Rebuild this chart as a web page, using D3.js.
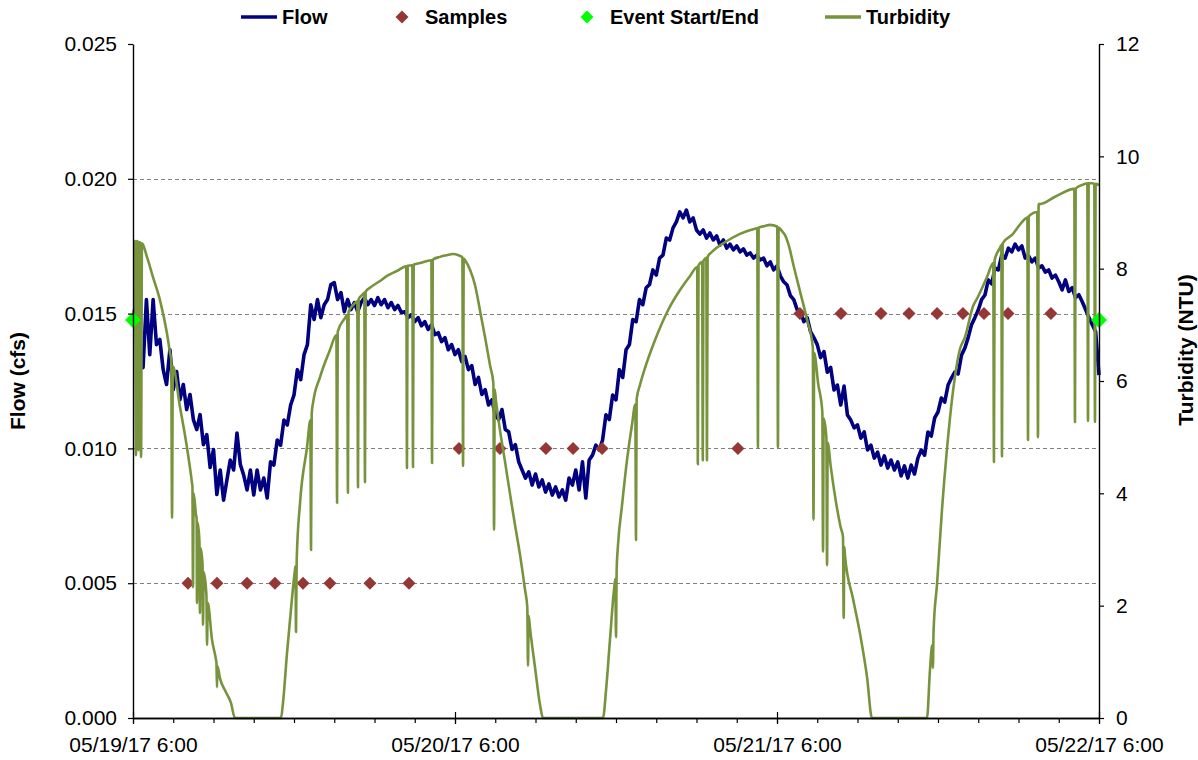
<!DOCTYPE html>
<html>
<head>
<meta charset="utf-8">
<script src="https://cdn.jsdelivr.net/npm/d3@7"></script>
<style>
  body { margin: 0; background: #ffffff; }
  svg { display: block; }
  text { font-family: "Liberation Sans", Arial, Helvetica, sans-serif; }
</style>
</head>
<body>
<svg id="chart" width="1198" height="760"></svg>
<script>
// ---- data ---------------------------------------------------------------
const startTime = new Date(2017, 4, 19, 6, 0);   // 05/19/17 6:00
const spanHours = 72;
const flowStepMinutes = 15;

// Flow (cfs), one reading every 15 minutes from 05/19/17 6:00
const flowValues = [
  0.01478, 0.01552, 0.01311, 0.01300, 0.01552, 0.01348, 0.01552, 0.01385, 0.01404, 0.01292, 0.01237, 0.01366,
  0.01218, 0.01285, 0.01181, 0.01237, 0.01144, 0.01200, 0.01107, 0.01070, 0.01125, 0.01014, 0.01051, 0.00929,
  0.00996, 0.00829, 0.00920, 0.00808, 0.00883, 0.00957, 0.00920, 0.01057, 0.00940, 0.00901, 0.00846, 0.00920,
  0.00827, 0.00920, 0.00846, 0.00890, 0.00816, 0.00950, 0.00938, 0.01031, 0.01012, 0.01105, 0.01087, 0.01161,
  0.01198, 0.01292, 0.01255, 0.01348, 0.01385, 0.01533, 0.01478, 0.01552, 0.01485, 0.01533, 0.01552, 0.01608,
  0.01615, 0.01552, 0.01578, 0.01507, 0.01552, 0.01515, 0.01541, 0.01507, 0.01541, 0.01559, 0.01533, 0.01552,
  0.01530, 0.01559, 0.01533, 0.01552, 0.01522, 0.01541, 0.01515, 0.01530, 0.01504, 0.01507, 0.01485, 0.01496,
  0.01470, 0.01485, 0.01455, 0.01470, 0.01441, 0.01459, 0.01422, 0.01429, 0.01396, 0.01411, 0.01366, 0.01385,
  0.01348, 0.01366, 0.01322, 0.01341, 0.01292, 0.01307, 0.01237, 0.01263, 0.01200, 0.01218, 0.01161, 0.01180,
  0.01125, 0.01107, 0.01144, 0.01070, 0.01062, 0.00996, 0.01014, 0.00950, 0.00920, 0.00890, 0.00913, 0.00864,
  0.00905, 0.00857, 0.00883, 0.00838, 0.00868, 0.00827, 0.00857, 0.00820, 0.00846, 0.00808, 0.00890, 0.00864,
  0.00920, 0.00846, 0.00950, 0.00816, 0.00957, 0.00975, 0.01012, 0.00994, 0.01031, 0.01125, 0.01107, 0.01198,
  0.01180, 0.01292, 0.01263, 0.01366, 0.01385, 0.01478, 0.01470, 0.01552, 0.01533, 0.01596, 0.01608, 0.01662,
  0.01643, 0.01706, 0.01717, 0.01780, 0.01773, 0.01818, 0.01840, 0.01877, 0.01855, 0.01884, 0.01840, 0.01855,
  0.01810, 0.01795, 0.01810, 0.01780, 0.01799, 0.01773, 0.01788, 0.01754, 0.01773, 0.01743, 0.01758, 0.01736,
  0.01751, 0.01729, 0.01740, 0.01717, 0.01725, 0.01706, 0.01717, 0.01699, 0.01706, 0.01677, 0.01692, 0.01662,
  0.01677, 0.01640, 0.01618, 0.01606, 0.01566, 0.01552, 0.01515, 0.01507, 0.01470, 0.01485, 0.01433, 0.01411,
  0.01385, 0.01337, 0.01359, 0.01283, 0.01300, 0.01217, 0.01235, 0.01161, 0.01231, 0.01124, 0.01105, 0.01076,
  0.01087, 0.01038, 0.01061, 0.00994, 0.01012, 0.00964, 0.00986, 0.00938, 0.00972, 0.00927, 0.00957, 0.00920,
  0.00950, 0.00898, 0.00935, 0.00890, 0.00938, 0.00905, 0.00964, 0.00994, 0.00975, 0.01061, 0.01046, 0.01113,
  0.01135, 0.01187, 0.01172, 0.01235, 0.01261, 0.01283, 0.01276, 0.01346, 0.01372, 0.01411, 0.01459, 0.01485,
  0.01513, 0.01552, 0.01569, 0.01625, 0.01610, 0.01669, 0.01662, 0.01717, 0.01706, 0.01743, 0.01729, 0.01758,
  0.01736, 0.01751, 0.01706, 0.01714, 0.01692, 0.01706, 0.01669, 0.01677, 0.01654, 0.01662, 0.01632, 0.01643,
  0.01618, 0.01588, 0.01625, 0.01582, 0.01596, 0.01559, 0.01570, 0.01544, 0.01515, 0.01485, 0.01459, 0.01433,
  0.01272
];

// Turbidity (NTU) as [hours after 05/19/17 6:00, NTU], including sensor dropouts
const turbidityPoints = [
  [0.00, 8.49], [0.15, 8.49], [0.22, 4.68], [0.29, 8.49], [0.35, 8.48], [0.41, 4.77], [0.47, 8.47], [0.53, 8.47],
  [0.60, 4.65], [0.67, 8.45], [1.04, 8.21], [1.49, 7.85], [2.01, 7.44], [2.53, 6.85], [2.76, 6.50], [2.85, 6.38],
  [2.91, 3.56], [2.97, 6.26], [3.50, 5.54], [4.02, 4.82], [4.40, 4.18], [4.43, 4.12], [4.47, 2.33], [4.52, 4.00],
  [4.70, 3.61], [4.74, 3.56], [4.77, 2.05], [4.82, 3.48], [4.95, 3.15], [4.99, 1.87], [5.04, 3.02], [5.18, 2.75],
  [5.22, 1.66], [5.27, 2.60], [5.47, 2.20], [5.52, 1.30], [5.57, 2.05], [5.89, 1.39], [6.19, 1.03], [6.22, 0.98],
  [6.26, 0.55], [6.30, 0.92], [6.48, 0.71], [6.93, 0.46], [7.30, 0.27], [7.60, 0.00],
  [11.03, 0.00], [11.18, 0.27], [11.48, 1.16], [11.70, 1.74], [12.07, 2.63], [12.11, 2.70], [12.15, 1.53], [12.20, 2.80],
  [12.45, 3.83], [12.97, 4.82], [13.22, 5.30], [13.27, 2.99], [13.32, 5.42], [13.42, 5.61], [13.94, 6.07], [14.68, 6.55],
  [15.16, 6.82], [15.21, 3.83], [15.26, 6.88], [15.80, 7.12], [15.97, 7.18], [16.02, 4.01], [16.07, 7.23], [16.40, 7.35],
  [16.72, 7.42], [16.77, 4.11], [16.82, 7.46], [17.07, 7.53], [17.24, 7.57], [17.29, 4.20], [17.34, 7.59], [17.66, 7.66],
  [18.41, 7.78], [18.93, 7.87], [19.68, 7.96], [20.37, 8.04], [20.42, 4.45], [20.47, 8.05], [20.82, 8.06], [20.87, 4.47],
  [20.92, 8.07], [21.39, 8.10], [22.24, 8.15], [22.29, 4.54], [22.34, 8.16], [22.88, 8.21], [23.40, 8.24], [23.85, 8.26],
  [24.25, 8.24], [24.55, 8.20], [24.60, 4.49], [24.65, 8.18], [24.75, 8.15], [25.12, 7.98], [25.49, 7.71], [25.86, 7.26],
  [26.24, 6.78], [26.61, 6.28], [26.86, 5.96], [26.91, 3.35], [26.96, 5.85], [27.05, 5.66], [27.35, 5.13], [27.73, 4.56],
  [28.10, 3.99], [28.47, 3.44], [28.85, 2.90], [29.22, 2.28], [29.39, 1.96], [29.44, 0.93], [29.49, 1.82], [29.59, 1.60],
  [29.97, 0.89], [30.34, 0.23], [30.56, 0.00],
  [35.03, 0.00], [35.26, 0.50], [35.55, 1.39], [35.85, 2.28], [35.95, 2.48], [36.00, 1.44], [36.05, 2.64], [36.15, 3.08],
  [36.45, 3.79], [36.82, 4.59], [37.19, 5.22], [37.44, 5.58], [37.49, 3.17], [37.54, 5.68], [37.79, 5.93], [38.16, 6.23],
  [38.91, 6.73], [39.88, 7.26], [40.77, 7.62], [41.52, 7.87], [42.05, 8.03], [42.10, 4.52], [42.15, 8.06], [42.42, 8.12],
  [42.47, 4.59], [42.52, 8.14], [42.73, 8.19], [42.78, 4.59], [42.83, 8.21], [43.15, 8.30], [44.12, 8.47], [45.24, 8.62],
  [46.36, 8.71], [46.53, 8.72], [46.58, 4.82], [46.63, 8.73], [47.10, 8.76], [47.47, 8.78], [48.02, 8.75], [48.07, 4.82],
  [48.12, 8.73], [48.37, 8.67], [48.59, 8.60], [48.97, 8.33], [49.19, 8.10], [49.71, 7.60], [50.24, 7.09], [50.67, 6.60],
  [50.72, 3.53], [50.77, 6.50], [51.07, 5.95], [51.38, 5.45], [51.43, 2.96], [51.48, 5.33], [51.68, 5.00], [51.73, 2.72],
  [51.78, 4.90], [52.00, 4.49], [52.74, 3.40], [52.92, 3.22], [52.97, 1.78], [53.02, 3.05], [53.07, 2.88], [53.67, 2.12],
  [54.19, 1.50], [54.71, 0.73], [55.08, 0.00],
  [59.18, 0.00], [59.40, 0.85], [59.57, 1.30], [59.62, 0.89], [59.67, 1.55], [59.93, 2.39], [60.30, 3.72], [60.67, 4.79],
  [61.12, 5.82], [61.64, 6.57], [62.01, 6.78], [62.61, 7.33], [62.98, 7.50], [63.65, 7.85], [64.12, 8.10], [64.17, 4.56],
  [64.22, 8.15], [64.62, 8.37], [64.72, 8.42], [64.77, 4.66], [64.82, 8.45], [65.59, 8.62], [66.26, 8.83], [66.66, 8.91],
  [66.71, 4.95], [66.76, 8.93], [67.40, 9.01], [67.45, 5.00], [67.50, 9.15], [67.60, 9.15], [68.72, 9.28], [70.16, 9.42],
  [70.21, 5.27], [70.26, 9.43], [70.96, 9.51], [71.13, 9.52], [71.18, 5.29], [71.23, 9.52], [71.48, 9.52], [71.65, 9.51],
  [71.70, 5.27], [71.75, 9.51], [72.00, 9.49]
];

// Water-quality samples: hours after start, flow at sampling (cfs)
const sampleHours = [4.10, 6.26, 8.50, 10.58, 12.67, 14.68, 17.66, 20.57,
                     24.30, 27.35, 30.78, 32.80, 34.96, 45.09,
                     49.71, 52.77, 55.75, 57.84, 59.93, 61.86, 63.43, 65.22, 68.42];
const sampleFlow  = [0.005, 0.005, 0.005, 0.005, 0.005, 0.005, 0.005, 0.005,
                     0.010, 0.010, 0.010, 0.010, 0.010, 0.010,
                     0.015, 0.015, 0.015, 0.015, 0.015, 0.015, 0.015, 0.015, 0.015];

// Event start and end
const eventHours = [0, 72];
const eventFlow  = [0.01476, 0.01476];

// Axis ticks
const flowTicks = [0.000, 0.005, 0.010, 0.015, 0.020, 0.025];
const flowGridTicks = [0.005, 0.010, 0.015, 0.020];
const turbidityTicks = [0, 2, 4, 6, 8, 10, 12];
const dayTickHours = [0, 24, 48, 72];
const minorTickHours = d3.range(0, 73, 3);

// ---- layout -------------------------------------------------------------
const plot = { left: 133, right: 1099, top: 44, bottom: 718 };
const colors = {
  flow: "#000080",
  sample: "#953735",
  event: "#00ff00",
  turbidity: "#77933c",
  grid: "#808080"
};

const hourToDate = h => new Date(startTime.getTime() + h * 3600 * 1000);

const x = d3.scaleTime()
  .domain([startTime, hourToDate(spanHours)])
  .range([plot.left, plot.right]);
const yFlow = d3.scaleLinear().domain([0, 0.025]).range([plot.bottom, plot.top]);
const yTurb = d3.scaleLinear().domain([0, 12]).range([plot.bottom, plot.top]);

const svg = d3.select("#chart");
svg.append("rect").attr("width", 1198).attr("height", 760).attr("fill", "#ffffff");

// horizontal dashed gridlines
svg.append("g").selectAll("line")
  .data(flowGridTicks)
  .join("line")
  .attr("x1", plot.left).attr("x2", plot.right)
  .attr("y1", d => Math.round(yFlow(d)) + 0.5)
  .attr("y2", d => Math.round(yFlow(d)) + 0.5)
  .attr("stroke", colors.grid)
  .attr("stroke-width", 1.2)
  .attr("stroke-dasharray", "4,3");

// flow line
const flowLine = d3.line()
  .x((d, i) => x(hourToDate(i * flowStepMinutes / 60)))
  .y(d => yFlow(d));
svg.append("path")
  .datum(flowValues)
  .attr("d", flowLine)
  .attr("fill", "none")
  .attr("stroke", colors.flow)
  .attr("stroke-width", 3.6)
  .attr("stroke-linejoin", "round");

// diamond marker path
const diamond = r => `M0,${-r}L${r},0L0,${r}L${-r},0Z`;

// samples
svg.append("g").selectAll("path")
  .data(sampleHours.map((h, i) => [h, sampleFlow[i]]))
  .join("path")
  .attr("transform", d => `translate(${x(hourToDate(d[0]))},${yFlow(d[1])})`)
  .attr("d", diamond(6.5))
  .attr("fill", colors.sample);

// turbidity line (secondary axis)
const turbLine = d3.line()
  .x(d => x(hourToDate(d[0])))
  .y(d => yTurb(d[1]))
  .curve(d3.curveMonotoneX);
svg.append("path")
  .datum(turbidityPoints)
  .attr("d", turbLine)
  .attr("fill", "none")
  .attr("stroke", colors.turbidity)
  .attr("stroke-width", 2.6)
  .attr("stroke-linejoin", "round");

// event start / end markers
svg.append("g").selectAll("path")
  .data(eventHours.map((h, i) => [h, eventFlow[i]]))
  .join("path")
  .attr("transform", d => `translate(${x(hourToDate(d[0]))},${yFlow(d[1])})`)
  .attr("d", diamond(8))
  .attr("fill", colors.event);

// ---- axes ---------------------------------------------------------------
const styleAxis = g => {
  g.select(".domain").attr("stroke", "#000").attr("stroke-width", 1.4);
  g.selectAll(".tick line").attr("stroke", "#000").attr("stroke-width", 1.2);
  g.selectAll(".tick text").attr("fill", "#000").attr("font-size", 21)
    .attr("font-family", '"Liberation Sans", Arial, sans-serif');
};

svg.append("g")
  .attr("transform", `translate(${plot.left},0)`)
  .call(d3.axisLeft(yFlow).tickValues(flowTicks).tickFormat(d3.format(".3f"))
    .tickSizeInner(5).tickSizeOuter(0).tickPadding(11))
  .call(styleAxis);

svg.append("g")
  .attr("transform", `translate(${plot.right},0)`)
  .call(d3.axisRight(yTurb).tickValues(turbidityTicks).tickFormat(d3.format("d"))
    .tickSizeInner(5).tickSizeOuter(0).tickPadding(12))
  .call(styleAxis);

// minor 3-hour ticks
svg.append("g")
  .attr("transform", `translate(0,${plot.bottom})`)
  .call(d3.axisBottom(x).tickValues(minorTickHours.map(hourToDate)).tickFormat("")
    .tickSizeInner(5).tickSizeOuter(0))
  .call(styleAxis);

// major day ticks with labels
const dayAxis = svg.append("g")
  .attr("transform", `translate(0,${plot.bottom})`)
  .call(d3.axisBottom(x).tickValues(dayTickHours.map(hourToDate))
    .tickFormat(d3.timeFormat("%m/%d/%y %-H:%M"))
    .tickSizeInner(6).tickSizeOuter(0).tickPadding(13))
  .call(styleAxis);
dayAxis.selectAll(".tick line").attr("y1", -6);

// axis titles
svg.append("text")
  .attr("transform", `translate(25,${(plot.top + plot.bottom) / 2}) rotate(-90)`)
  .attr("text-anchor", "middle")
  .attr("font-size", 21).attr("font-weight", "bold")
  .text("Flow (cfs)");

svg.append("text")
  .attr("transform", `translate(1193,350) rotate(-90)`)
  .attr("text-anchor", "middle")
  .attr("font-size", 21).attr("font-weight", "bold")
  .text("Turbidity (NTU)");

// ---- legend -------------------------------------------------------------
const legend = svg.append("g").attr("font-size", 20).attr("font-weight", "bold");
const legendY = 17;

legend.append("line").attr("x1", 241).attr("x2", 277).attr("y1", legendY).attr("y2", legendY)
  .attr("stroke", colors.flow).attr("stroke-width", 3.5);
legend.append("text").attr("x", 282).attr("y", legendY + 7).text("Flow");

legend.append("path").attr("transform", `translate(402,${legendY})`).attr("d", diamond(6.5))
  .attr("fill", colors.sample);
legend.append("text").attr("x", 425).attr("y", legendY + 7).text("Samples");

legend.append("path").attr("transform", `translate(587,${legendY})`).attr("d", diamond(6.5))
  .attr("fill", colors.event);
legend.append("text").attr("x", 610).attr("y", legendY + 7).text("Event Start/End");

legend.append("line").attr("x1", 825).attr("x2", 861).attr("y1", legendY).attr("y2", legendY)
  .attr("stroke", colors.turbidity).attr("stroke-width", 3.5);
legend.append("text").attr("x", 866).attr("y", legendY + 7).text("Turbidity");
</script>
</body>
</html>
